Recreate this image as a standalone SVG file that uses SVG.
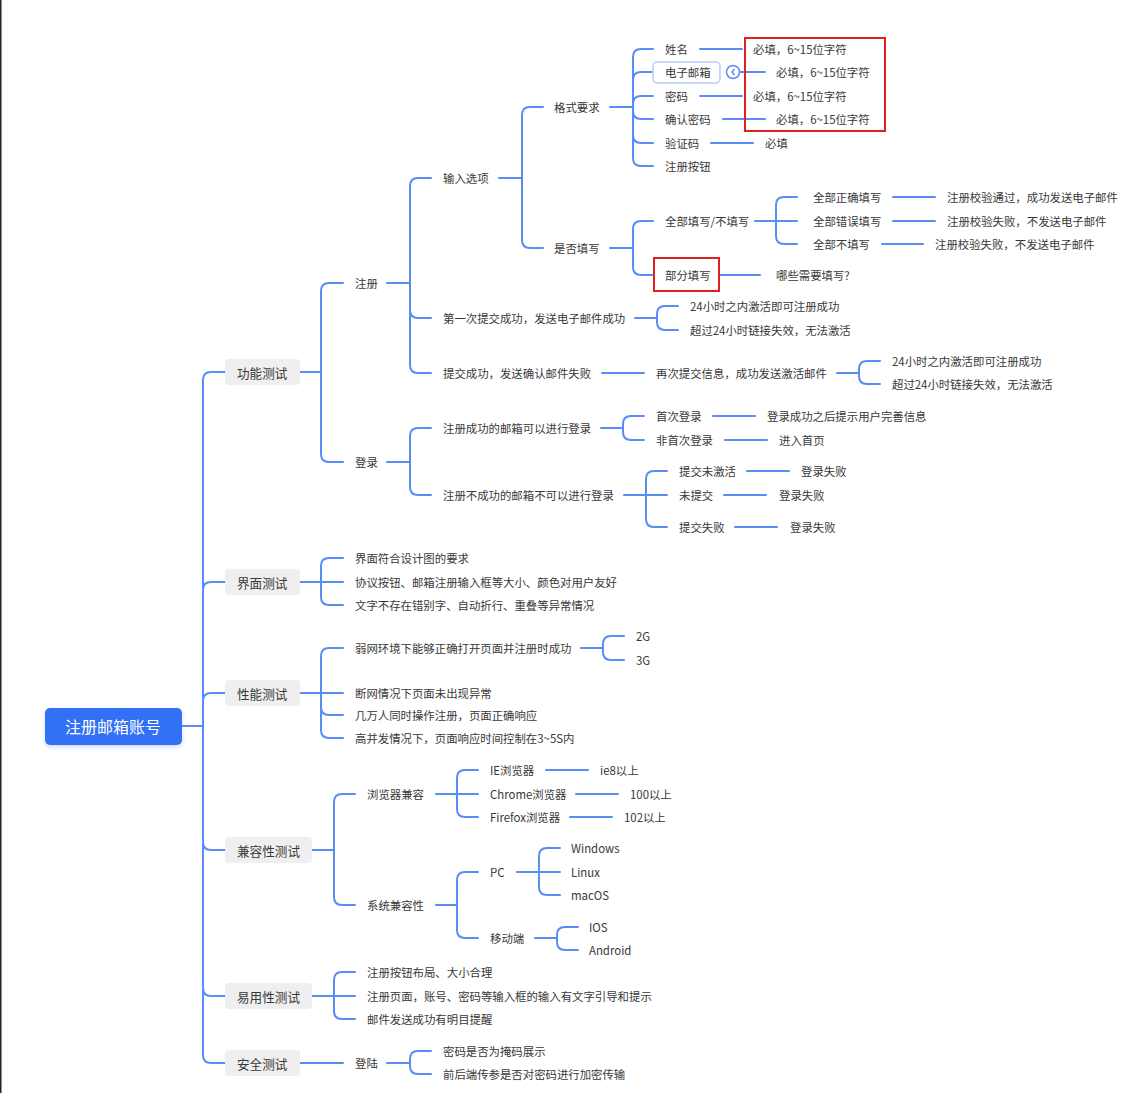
<svg xmlns="http://www.w3.org/2000/svg" width="1139" height="1093" viewBox="0 0 1139 1093">
<style>
text{font-family:"Noto Sans CJK SC","Noto Sans",sans-serif;fill:#383838;font-size:11.4px;dominant-baseline:central}
.l1{font-size:12.6px}
.root{font-size:16px;fill:#fff;text-anchor:middle}
.c path{fill:none;stroke:#5a8cf5;stroke-width:2;stroke-linecap:round}
.box{fill:#efefef}
.red{fill:none;stroke:#e02020;stroke-width:2}
</style>
<defs>
<filter id="sh" x="-10%" y="-20%" width="120%" height="150%"><feDropShadow dx="0" dy="2" stdDeviation="2" flood-color="#3370ff" flood-opacity="0.25"/></filter>
</defs>
<rect width="1139" height="1093" fill="#fff"/>
<rect x="0" y="0" width="1.5" height="1093" fill="#222"/>

<g class="c" id="connectors">
<path d="M181 726H203"/>
<path d="M203 726V380Q203 372 211 372H225"/>
<path d="M203 726V590Q203 582 211 582H225"/>
<path d="M203 726V701Q203 693 211 693H225"/>
<path d="M203 726V842Q203 850 211 850H225"/>
<path d="M203 726V988Q203 996 211 996H225"/>
<path d="M203 726V1055Q203 1063 211 1063H225"/>
<path d="M300 372H321"/>
<path d="M321 372V291Q321 283 329 283H343"/>
<path d="M321 372V454Q321 462 329 462H343"/>
<path d="M387 283H410"/>
<path d="M410 283V186Q410 178 418 178H431"/>
<path d="M410 283V310Q410 318 418 318H431"/>
<path d="M410 283V365Q410 373 418 373H431"/>
<path d="M499 178H522"/>
<path d="M522 178V115Q522 107 530 107H543"/>
<path d="M522 178V240Q522 248 530 248H543"/>
<path d="M610 107H633"/>
<path d="M633 107V57Q633 49 641 49H653"/>
<path d="M633 107V80Q633 72 641 72H653"/>
<path d="M633 107V104Q633 96 641 96H653"/>
<path d="M633 107V111Q633 119 641 119H653"/>
<path d="M633 107V135Q633 143 641 143H653"/>
<path d="M633 107V158Q633 166 641 166H653"/>
<path d="M700 49H742"/>
<path d="M740 72H765"/>
<path d="M700 96H742"/>
<path d="M723 119H765"/>
<path d="M711 143H753"/>
<path d="M610 248H633"/>
<path d="M633 248V229Q633 221 641 221H653"/>
<path d="M633 248V267Q633 275 641 275H653"/>
<path d="M755 221H776"/>
<path d="M776 221V205Q776 197 784 197H797"/>
<path d="M776 221H797"/>
<path d="M776 221V236Q776 244 784 244H797"/>
<path d="M893 197H935"/>
<path d="M893 221H935"/>
<path d="M882 244H923"/>
<path d="M719 275H760"/>
<path d="M635 318H657"/>
<path d="M657 318V314Q657 306 665 306H678"/>
<path d="M657 318V322Q657 330 665 330H678"/>
<path d="M602 373H644"/>
<path d="M837 373H859"/>
<path d="M859 373V369Q859 361 867 361H880"/>
<path d="M859 373V376Q859 384 867 384H880"/>
<path d="M387 462H410"/>
<path d="M410 462V436Q410 428 418 428H431"/>
<path d="M410 462V487Q410 495 418 495H431"/>
<path d="M601 428H623"/>
<path d="M623 428V424Q623 416 631 416H644"/>
<path d="M623 428V432Q623 440 631 440H644"/>
<path d="M713 416H755"/>
<path d="M725 440H767"/>
<path d="M624 495H646"/>
<path d="M646 495V479Q646 471 654 471H667"/>
<path d="M646 495H667"/>
<path d="M646 495V519Q646 527 654 527H667"/>
<path d="M747 471H789"/>
<path d="M724 495H766"/>
<path d="M735 527H777"/>
<path d="M300 582H321"/>
<path d="M321 582V566Q321 558 329 558H343"/>
<path d="M321 582H343"/>
<path d="M321 582V597Q321 605 329 605H343"/>
<path d="M300 693H321"/>
<path d="M321 693V656Q321 648 329 648H343"/>
<path d="M321 693H343"/>
<path d="M321 693V707Q321 715 329 715H343"/>
<path d="M321 693V730Q321 738 329 738H343"/>
<path d="M581 648H603"/>
<path d="M603 648V644Q603 636 611 636H624"/>
<path d="M603 648V652Q603 660 611 660H624"/>
<path d="M312 850H334"/>
<path d="M334 850V802Q334 794 342 794H355"/>
<path d="M334 850V897Q334 905 342 905H355"/>
<path d="M436 794H457"/>
<path d="M457 794V778Q457 770 465 770H478"/>
<path d="M457 794H478"/>
<path d="M457 794V809Q457 817 465 817H478"/>
<path d="M546 770H588"/>
<path d="M576 794H618"/>
<path d="M570 817H612"/>
<path d="M436 905H457"/>
<path d="M457 905V880Q457 872 465 872H478"/>
<path d="M457 905V930Q457 938 465 938H478"/>
<path d="M517 872H539"/>
<path d="M539 872V856Q539 848 547 848H560"/>
<path d="M539 872H560"/>
<path d="M539 872V887Q539 895 547 895H560"/>
<path d="M535 938H557"/>
<path d="M557 938V935Q557 927 565 927H578"/>
<path d="M557 938V942Q557 950 565 950H578"/>
<path d="M312 996H334"/>
<path d="M334 996V980Q334 972 342 972H355"/>
<path d="M334 996H355"/>
<path d="M334 996V1011Q334 1019 342 1019H355"/>
<path d="M300 1063H343"/>
<path d="M387 1063H410"/>
<path d="M410 1063V1059Q410 1051 418 1051H431"/>
<path d="M410 1063V1066Q410 1074 418 1074H431"/>
</g>

<g id="root"><rect x="45" y="708" width="137" height="37" rx="5" fill="#3370f5" filter="url(#sh)"/><text class="root" x="113" y="726">注册邮箱账号</text></g>

<g id="n-gongneng"><rect class="box" x="225" y="359" width="75" height="26" rx="4"/><text class="l1" x="237" y="372">功能测试</text></g>
<g id="n-jiemian"><rect class="box" x="225" y="569" width="75" height="26" rx="4"/><text class="l1" x="237" y="582">界面测试</text></g>
<g id="n-xingneng"><rect class="box" x="225" y="680" width="75" height="26" rx="4"/><text class="l1" x="237" y="693">性能测试</text></g>
<g id="n-jianrong"><rect class="box" x="225" y="837" width="87" height="26" rx="4"/><text class="l1" x="237" y="850">兼容性测试</text></g>
<g id="n-yiyong"><rect class="box" x="225" y="983" width="87" height="26" rx="4"/><text class="l1" x="237" y="996">易用性测试</text></g>
<g id="n-anquan"><rect class="box" x="225" y="1050" width="75" height="26" rx="4"/><text class="l1" x="237" y="1063">安全测试</text></g>

<g id="n-zhuce"><text x="355" y="283">注册</text></g>
<g id="n-shuru"><text x="443" y="178">输入选项</text></g>
<g id="n-geshi"><text x="554" y="107">格式要求</text></g>
<g id="n-xingming"><text x="665" y="49">姓名</text></g>
<g id="n-email"><rect x="653" y="62" width="67" height="21" rx="4" fill="#fff" stroke="#b8cdf9" stroke-width="1.5"/><text x="665" y="72">电子邮箱</text></g>
<g id="n-collapse"><circle cx="733" cy="72" r="6.5" fill="#fff" stroke="#5a8cf5" stroke-width="1.5"/><path d="M734.5 69L732 72L734.5 75" fill="none" stroke="#5a8cf5" stroke-width="1.5"/></g>
<g id="n-mima"><text x="665" y="96">密码</text></g>
<g id="n-queren"><text x="665" y="119">确认密码</text></g>
<g id="n-yanzheng"><text x="665" y="143">验证码</text></g>
<g id="n-anniu"><text x="665" y="166">注册按钮</text></g>
<g id="n-req1"><text x="753" y="49">必填，6~15位字符</text></g>
<g id="n-req2"><text x="776" y="72">必填，6~15位字符</text></g>
<g id="n-req3"><text x="753" y="96">必填，6~15位字符</text></g>
<g id="n-req4"><text x="776" y="119">必填，6~15位字符</text></g>
<g id="n-req5"><text x="765" y="143">必填</text></g>
<g id="hl-red"><rect class="red" x="745" y="38" width="140" height="93"/></g>

<g id="n-shifou"><text x="554" y="248">是否填写</text></g>
<g id="n-quanbu"><text x="665" y="221">全部填写/不填写</text></g>
<g id="n-bufen"><rect class="red" x="654" y="258" width="65" height="33"/><text x="665" y="275">部分填写</text></g>
<g id="n-naxie"><text x="776" y="275">哪些需要填写?</text></g>
<g id="n-zhengque"><text x="813" y="197">全部正确填写</text></g>
<g id="n-cuowu"><text x="813" y="221">全部错误填写</text></g>
<g id="n-butian"><text x="813" y="244">全部不填写</text></g>
<g id="n-r1"><text x="947" y="197">注册校验通过，成功发送电子邮件</text></g>
<g id="n-r2"><text x="947" y="221">注册校验失败，不发送电子邮件</text></g>
<g id="n-r3"><text x="935" y="244">注册校验失败，不发送电子邮件</text></g>

<g id="n-diyici"><text x="443" y="318">第一次提交成功，发送电子邮件成功</text></g>
<g id="n-a1"><text x="690" y="306">24小时之内激活即可注册成功</text></g>
<g id="n-a2"><text x="690" y="330">超过24小时链接失效，无法激活</text></g>
<g id="n-tijiao"><text x="443" y="373">提交成功，发送确认邮件失败</text></g>
<g id="n-zaici"><text x="656" y="373">再次提交信息，成功发送激活邮件</text></g>
<g id="n-b1"><text x="892" y="361">24小时之内激活即可注册成功</text></g>
<g id="n-b2"><text x="892" y="384">超过24小时链接失效，无法激活</text></g>

<g id="n-denglu"><text x="355" y="462">登录</text></g>
<g id="n-keyi"><text x="443" y="428">注册成功的邮箱可以进行登录</text></g>
<g id="n-shouci"><text x="656" y="416">首次登录</text></g>
<g id="n-feishouci"><text x="656" y="440">非首次登录</text></g>
<g id="n-wanshan"><text x="767" y="416">登录成功之后提示用户完善信息</text></g>
<g id="n-shouye"><text x="779" y="440">进入首页</text></g>
<g id="n-bukeyi"><text x="443" y="495">注册不成功的邮箱不可以进行登录</text></g>
<g id="n-weijihuo"><text x="679" y="471">提交未激活</text></g>
<g id="n-weitijiao"><text x="679" y="495">未提交</text></g>
<g id="n-tjshibai"><text x="679" y="527">提交失败</text></g>
<g id="n-f1"><text x="801" y="471">登录失败</text></g>
<g id="n-f2"><text x="779" y="495">登录失败</text></g>
<g id="n-f3"><text x="790" y="527">登录失败</text></g>

<g id="n-ui1"><text x="355" y="558">界面符合设计图的要求</text></g>
<g id="n-ui2"><text x="355" y="582">协议按钮、邮箱注册输入框等大小、颜色对用户友好</text></g>
<g id="n-ui3"><text x="355" y="605">文字不存在错别字、自动折行、重叠等异常情况</text></g>

<g id="n-p1"><text x="355" y="648">弱网环境下能够正确打开页面并注册时成功</text></g>
<g id="n-2g"><text x="636" y="636">2G</text></g>
<g id="n-3g"><text x="636" y="660">3G</text></g>
<g id="n-p2"><text x="355" y="693">断网情况下页面未出现异常</text></g>
<g id="n-p3"><text x="355" y="715">几万人同时操作注册，页面正确响应</text></g>
<g id="n-p4"><text x="355" y="738">高并发情况下，页面响应时间控制在3~5S内</text></g>

<g id="n-liulanqi"><text x="367" y="794">浏览器兼容</text></g>
<g id="n-ie"><text x="490" y="770">IE浏览器</text></g>
<g id="n-chrome"><text x="490" y="794">Chrome浏览器</text></g>
<g id="n-firefox"><text x="490" y="817">Firefox浏览器</text></g>
<g id="n-ie8"><text x="600" y="770">ie8以上</text></g>
<g id="n-100"><text x="630" y="794">100以上</text></g>
<g id="n-102"><text x="624" y="817">102以上</text></g>
<g id="n-xitong"><text x="367" y="905">系统兼容性</text></g>
<g id="n-pc"><text x="490" y="872">PC</text></g>
<g id="n-win"><text x="571" y="848">Windows</text></g>
<g id="n-linux"><text x="571" y="872">Linux</text></g>
<g id="n-mac"><text x="571" y="895">macOS</text></g>
<g id="n-yidong"><text x="490" y="938">移动端</text></g>
<g id="n-ios"><text x="589" y="927">IOS</text></g>
<g id="n-android"><text x="589" y="950">Android</text></g>

<g id="n-e1"><text x="367" y="972">注册按钮布局、大小合理</text></g>
<g id="n-e2"><text x="367" y="996">注册页面，账号、密码等输入框的输入有文字引导和提示</text></g>
<g id="n-e3"><text x="367" y="1019">邮件发送成功有明目提醒</text></g>

<g id="n-denglu2"><text x="355" y="1063">登陆</text></g>
<g id="n-s1"><text x="443" y="1051">密码是否为掩码展示</text></g>
<g id="n-s2"><text x="443" y="1074">前后端传参是否对密码进行加密传输</text></g>
</svg>
